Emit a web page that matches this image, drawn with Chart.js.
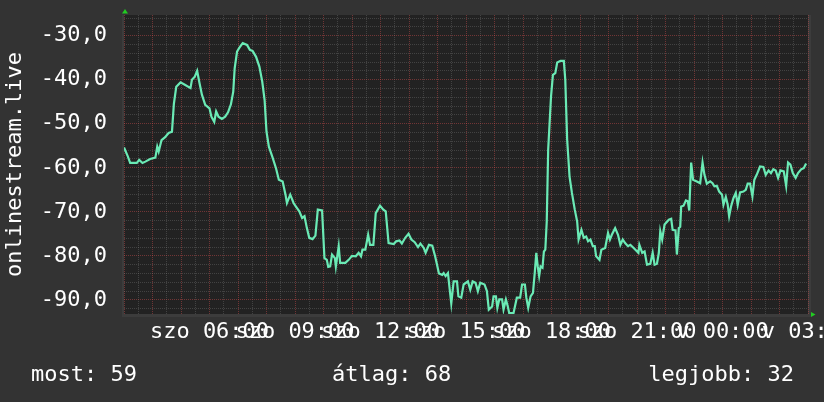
<!DOCTYPE html>
<html><head><meta charset="utf-8">
<script src="https://cdn.jsdelivr.net/npm/chart.js@4/dist/chart.umd.min.js"></script>
<style>html,body{margin:0;padding:0;background:#333;overflow:hidden}#wrap{width:824px;height:402px;position:relative}</style>
</head><body><div id="wrap"><canvas id="c" width="824" height="402"></canvas></div>
<script>
// minutes since szo 03:00
const minutes = [
0,8,13,27,32,39,45,55,66,70,
73,79,86,94,101,105,110,119,129,140,
143,149,154,159,164,171,180,184,190,194,
199,206,213,219,225,230,233,238,243,250,
259,265,271,278,285,291,296,300,305,312,
320,326,334,340,343,350,357,362,369,375,
380,385,390,397,403,408,417,422,427,430,
434,438,444,446,452,455,466,473,480,488,
494,499,502,508,514,518,525,530,539,546,
551,557,568,573,580,585,592,599,605,612,
619,624,631,635,642,649,655,659,663,670,
673,677,682,685,689,694,701,704,710,715,
724,729,734,740,745,750,759,764,768,775,
778,783,786,790,796,799,804,808,811,820,
827,834,838,844,847,851,856,861,865,868,
871,874,877,881,884,887,890,893,899,903,
908,912,919,926,929,933,938,943,949,954,
957,963,968,973,977,982,987,991,994,1001,
1005,1013,1019,1023,1027,1034,1040,1045,1050,1055,
1061,1066,1073,1083,1085,1091,1096,1101,1108,1113,
1117,1122,1126,1129,1133,1138,1147,1152,1155,1161,
1164,1168,1171,1173,1178,1183,1187,1190,1194,1198,
1206,1213,1218,1222,1227,1234,1239,1243,1248,1253,
1259,1262,1267,1271,1274,1278,1283,1288,1292,1297,
1304,1309,1313,1318,1323,1327,1332,1339,1346,1351,
1357,1362,1367,1372,1377,1382,1389,1394,1398,1403,
1408,1414,1419,1426,1431,1436
];
const values = [
-55.4,-57.4,-58.9,-58.9,-58.2,-58.9,-58.6,-58.0,-57.7,-55.2,
-56.3,-53.7,-53.1,-52.1,-51.8,-45.5,-41.6,-40.6,-41.2,-41.9,
-40.0,-39.3,-38.0,-40.8,-43.4,-45.7,-46.5,-48.4,-49.6,-47.2,
-48.4,-48.9,-48.4,-47.4,-45.6,-42.7,-37.4,-33.6,-32.7,-31.7,
-32.1,-33.2,-33.5,-34.8,-37.0,-40.4,-44.6,-51.8,-55.2,-57.4,
-60.1,-62.7,-63.1,-66.1,-68.0,-66.1,-68.0,-68.8,-69.9,-71.4,
-71.0,-73.7,-75.9,-76.2,-75.4,-69.5,-69.7,-80.5,-80.9,-82.5,
-82.4,-79.7,-80.5,-82.4,-77.8,-81.6,-81.6,-80.9,-80.0,-80.1,
-79.3,-80.1,-78.6,-78.6,-75.2,-77.5,-77.5,-70.3,-68.6,-69.5,
-69.9,-77.1,-77.3,-76.7,-76.5,-77.2,-75.9,-75.0,-76.3,-76.9,
-78.0,-77.2,-78.2,-79.3,-77.5,-77.7,-80.1,-82.0,-84.0,-84.3,
-83.9,-84.6,-83.9,-86.9,-90.8,-85.8,-85.8,-89.2,-89.5,-86.5,
-85.8,-87.7,-85.8,-86.1,-88.0,-86.1,-86.5,-88.0,-92.2,-91.5,
-89.2,-89.2,-91.8,-89.9,-89.9,-92.2,-89.9,-91.5,-93.0,-93.0,
-89.5,-89.5,-86.5,-86.5,-89.5,-91.8,-89.2,-88.4,-83.5,-79.3,
-82.4,-84.6,-82.4,-82.7,-79.0,-78.6,-72.2,-55.9,-43.8,-38.9,
-38.5,-36.1,-35.7,-35.7,-40.0,-53.7,-62.0,-65.7,-69.5,-72.2,
-76.3,-74.1,-75.9,-75.6,-76.7,-76.3,-77.8,-77.8,-80.1,-80.9,
-78.6,-78.2,-74.8,-76.3,-75.2,-73.7,-75.2,-77.5,-76.3,-77.1,
-77.8,-77.5,-78.2,-79.3,-77.5,-79.3,-79.0,-82.0,-81.8,-79.3,
-82.0,-81.8,-79.3,-74.4,-76.3,-72.9,-71.8,-71.6,-74.1,-74.2,
-79.7,-73.7,-73.4,-68.8,-68.6,-67.4,-67.6,-69.7,-58.8,-62.7,
-63.1,-63.5,-58.8,-61.6,-63.6,-63.1,-63.5,-64.2,-64.1,-65.4,
-66.1,-68.4,-66.6,-68.4,-71.0,-68.8,-66.9,-65.7,-68.4,-65.6,
-65.4,-65.0,-63.6,-63.6,-66.5,-62.7,-61.6,-59.7,-59.8,-61.6,
-60.6,-61.2,-60.3,-60.6,-62.3,-60.6,-60.8,-64.1,-58.8,-59.3,
-61.2,-62.3,-61.2,-60.3,-60.1,-59.0
];
const dayNames = ['szo', 'v'];
const yTitle = 'onlinestream.live';
const statLabels = ['most: 59', 'átlag: 68', 'legjobb: 32'];

const FONT = 'DejaVu Sans Mono';
const FSIZE = 22;
const BG = '#333333', PLOT_BG = '#222222', FRAME = '#3c3c3c';
const MINOR = 'rgba(143,143,143,0.30)', MAJOR = 'rgba(222,80,80,0.42)';

const n = Math.min(minutes.length, values.length);
const points = [];
for (let i = 0; i < n; i++) points.push({x: minutes[i], y: values[i]});

const bgPlugin = {
  id: 'bg',
  beforeDraw(chart) {
    const {ctx, chartArea: a} = chart;
    ctx.save();
    ctx.fillStyle = BG; ctx.fillRect(0, 0, chart.width, chart.height);
    ctx.fillStyle = FRAME;
    ctx.fillRect(a.left - 2, a.top, a.right - a.left + 5, a.bottom - a.top + 3);
    ctx.fillStyle = PLOT_BG; ctx.fillRect(a.left, a.top, a.right - a.left, a.bottom - a.top);
    ctx.restore();
  },
  afterDraw(chart) {
    const {ctx, chartArea: a} = chart;
    ctx.save();
    ctx.fillStyle = '#22cc22';
    ctx.beginPath(); ctx.moveTo(a.left + 1, a.top - 6); ctx.lineTo(a.left - 2, a.top - 1.5); ctx.lineTo(a.left + 4, a.top - 1.5); ctx.closePath(); ctx.fill();
    ctx.beginPath(); ctx.moveTo(a.right + 7.5, a.bottom + 0.5); ctx.lineTo(a.right + 3, a.bottom - 2); ctx.lineTo(a.right + 3, a.bottom + 3); ctx.closePath(); ctx.fill();
    ctx.fillStyle = '#ffffff';
    ctx.font = FSIZE + 'px "' + FONT + '"';
    ctx.textBaseline = 'alphabetic';
    ctx.textAlign = 'left'; ctx.fillText(statLabels[0], 31, 381);
    ctx.fillText(statLabels[1], 332, 381);
    ctx.textAlign = 'right'; ctx.fillText(statLabels[2], 794, 381);
    ctx.restore();
  }
};

new Chart(document.getElementById('c'), {
  type: 'line',
  data: {datasets: [{data: points, borderColor: '#6aeab5', borderWidth: 2.2, pointRadius: 0, tension: 0, fill: false}]},
  options: {
    responsive: false, animation: false, devicePixelRatio: 1,
    layout: {padding: {top: 15, right: 16, bottom: 0, left: 0}},
    plugins: {legend: {display: false}, tooltip: {enabled: false}},
    scales: {
      x: {
        type: 'linear', min: 0, max: 1440,
        afterFit(s) { s.height = 88; s.paddingLeft = 0; s.paddingRight = 0; },
        ticks: {
          stepSize: 30, autoSkip: false, maxRotation: 0, minRotation: 0, includeBounds: false,
          padding: 5, color: '#ffffff', font: {family: FONT, size: FSIZE},
          callback(v) {
            if (v === 0 || v % 180 !== 0) return '';
            const total = 180 + v;
            const h = Math.floor(total / 60) % 24;
            const day = total < 1440 ? dayNames[0] : dayNames[1];
            return day + ' ' + String(h).padStart(2, '0') + ':00';
          }
        },
        grid: {color: c => (c.tick && c.tick.value % 60 === 0) ? MAJOR : MINOR, drawTicks: false, lineWidth: 1},
        border: {display: false, dash: [1, 1]}
      },
      y: {
        min: -93.2, max: -25.3,
        afterFit(s) { s.width = 124; s.paddingTop = 0; s.paddingBottom = 0; },
        ticks: {
          stepSize: 2, autoSkip: false, includeBounds: false, padding: 17, color: '#ffffff', font: {family: FONT, size: FSIZE},
          callback(v) { return (Math.round(v) % 10 === 0) ? v.toFixed(1).replace('.', ',') : ''; }
        },
        grid: {color: c => (c.tick && Math.round(c.tick.value) % 10 === 0) ? MAJOR : MINOR, drawTicks: false, lineWidth: 1},
        border: {display: false, dash: [1, 1]},
        title: {display: true, text: yTitle, color: '#ffffff', font: {family: FONT, size: FSIZE, lineHeight: 1.2}, padding: {top: 2, bottom: 0}}
      }
    }
  },
  plugins: [bgPlugin]
});
</script></body></html>
